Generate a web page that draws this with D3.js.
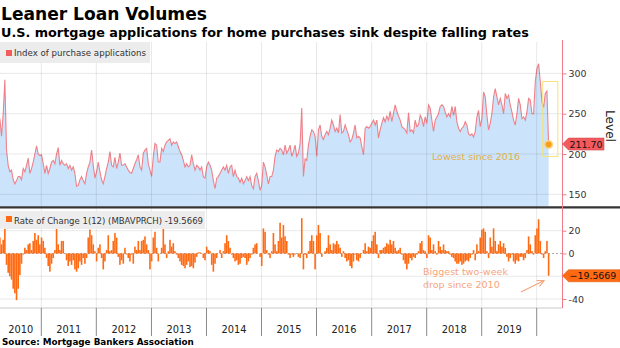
<!DOCTYPE html>
<html><head><meta charset="utf-8">
<script src="https://cdn.jsdelivr.net/npm/d3@7"></script>
<style>body{margin:0;background:#fff}svg{display:block}</style>
</head><body>
<svg id="c" width="620" height="348"></svg>
<script>
// ---------------- DATA ----------------
const startDate = new Date(2010, 3, 1);
const endDate = new Date(2020, 2, 20);

const purchaseIndex = [
244,222,250,292,205,186,178,180,168,163,
167,172,172,168,182,178,186,195,176,182,
190,200,210,200,198,199,188,176,186,176,
182,190,192,188,200,208,186,192,188,186,
188,182,186,180,184,176,160,161,168,172,
167,163,176,184,190,205,186,170,178,190,
178,168,163,172,182,190,203,186,184,196,
182,190,201,186,186,188,184,180,177,176,
182,188,193,199,
184,180,201,205,207,188,180,172,197,213,
211,190,190,207,203,211,215,217,219,211,
215,213,215,209,203,199,192,184,188,184,
186,199,188,180,186,184,180,184,172,170,
184,190,186,180,167,157,170,172,176,180,
184,180,186,176,184,186,172,180,172,170,
165,170,163,167,172,167,172,161,157,172,
176,167,155,161,190,184,174,163,172,172,
180,197,205,203,
207,205,199,211,201,205,211,197,203,211,
197,201,213,257,172,194,192,211,222,230,
228,222,197,230,236,222,218,224,228,224,
232,242,236,228,232,226,249,226,228,236,
230,224,215,218,226,236,220,222,220,209,
199,232,234,232,234,238,242,236,242,220,
230,238,245,240,247,242,253,240,251,261,
253,247,242,234,232,230,226,251,228,230,
226,242,234,236,
248,244,234,246,238,261,257,242,228,242,
246,250,259,261,259,252,246,250,246,259,
248,259,240,232,228,232,234,240,236,225,
223,225,221,228,246,254,234,244,277,271,
248,230,238,250,271,281,271,261,269,261,
250,275,269,273,261,252,242,236,250,269,
261,244,246,242,252,269,267,250,250,290,
306,312,290,265,258,275,278,211.7
];

const rateOfChange = [
14,8,12,22,-10,-17,-20,-23,-31,-35,
-41,-31,-19,-9,-1,5,3,8,9,3,
11,18,12,16,8,14,11,5,-4,-11,
-16,-9,-4,3,22,8,3,11,11,0,
-6,-11,-7,-10,-6,-14,-16,-13,-7,-10,
-4,-9,-4,14,21,16,8,2,-7,5,
8,-4,-14,-7,3,16,2,3,11,18,
14,-3,-10,-6,-9,5,-1,-4,-7,-1,
-9,6,3,11,3,11,12,15,8,3,
-14,-7,14,19,5,-7,0,5,22,8,
-4,2,12,6,9,2,-1,-4,-7,-10,
-11,-13,-10,-7,
-12,-11,-13,-8,-3,1,1,0,-4,-6,
6,3,2,-10,-16,-9,-4,0,3,-4,
2,9,16,11,5,-1,-4,-7,-6,-10,
-9,-4,-3,-4,-10,-7,-4,-1,5,8,
9,0,-3,-11,22,19,3,-1,-4,2,
18,8,2,11,27,14,25,15,11,-1,
-4,-1,-3,-1,0,-3,-4,31,-14,-1,
-4,2,11,16,11,-14,16,25,18,-3,
0,2,5,16,8,3,9,8,11,8,
5,-3,2,-4,-7,-6,-11,-13,-7,-1,
-6,-7,-4,0,3,9,2,6,
5,11,16,19,8,-4,3,3,5,6,
9,8,12,8,11,5,2,3,5,-1,
-6,-9,-14,-9,-4,-6,-3,-4,-1,2,
9,11,3,2,-4,16,14,3,8,2,
-1,11,6,3,8,3,2,2,-1,-3,
-4,-7,-9,-9,-7,-10,-9,-7,-6,-7,
-4,-1,3,-6,8,2,14,21,22,19,
2,-4,14,6,22,11,2,8,11,6,
9,5,-3,-7,-4,-1,-7,-9,-6,-7,
-3,-3,-6,-4,3,15,8,2,-1,16,
22,30,11,-1,-4,2,11,-19.5669
];

const yearLabels = ["2010","2011","2012","2013","2014","2015","2016","2017","2018","2019"];
const topTicks = [150, 200, 250, 300];
const bottomGrid = [20, -20, -40];
const bottomTicks = [20, 0, -40];
const lastLevel = 211.70;
const lastChange = -19.5669;

// ---------------- LAYOUT ----------------
const FONT = "DejaVu Sans, sans-serif";
const svg = d3.select("#c");
const plotL = 0, plotR = 562.5;
const topY0 = 42, topY1 = 206.5;
const botY1 = 308;

const n = purchaseIndex.length;
const dates = d3.range(n).map(i => new Date(+startDate + i * (endDate - startDate) / (n - 1)));

const x = d3.scaleTime().domain([new Date(2011,0,1), new Date(2019,0,1)]).range([41.3, 481.7]);
const yTop = d3.scaleLinear().domain([150, 300]).range([194.3, 73.4]);
const yBot = d3.scaleLinear().domain([-40, 20]).range([299, 230.7]);

function fit(sel, target) {
  const w = sel.node().getComputedTextLength();
  const fs = parseFloat(sel.attr("font-size"));
  sel.attr("font-size", (fs * target / w).toFixed(2));
  return sel;
}

const defs = svg.append("defs");
defs.append("clipPath").attr("id","clipTop").append("rect")
  .attr("x", plotL).attr("y", topY0).attr("width", plotR - plotL).attr("height", topY1 - topY0);
defs.append("marker").attr("id","arr").attr("viewBox","0 0 10 10").attr("refX",9).attr("refY",5)
  .attr("markerWidth",7).attr("markerHeight",7).attr("orient","auto")
  .append("path").attr("d","M1,1 L9,5 L1,9").attr("fill","none").attr("stroke","#f6a57e").attr("stroke-width",1.4);

// ---------- Title ----------
fit(svg.append("text").attr("x", 1).attr("y", 20).attr("font-family", FONT).attr("font-weight","bold")
  .attr("font-size", 17).attr("fill","#000").text("Leaner Loan Volumes"), 206);
fit(svg.append("text").attr("x", 1).attr("y", 37).attr("font-family", FONT).attr("font-weight","bold")
  .attr("font-size", 13).attr("fill","#000").text("U.S. mortgage applications for home purchases sink despite falling rates"), 528);

// ---------- Top panel ----------
const gTop = svg.append("g").attr("clip-path","url(#clipTop)");
gTop.append("path").datum(purchaseIndex)
  .attr("d", d3.area().x((d,i) => x(dates[i])).y0(topY1).y1(d => yTop(d)))
  .attr("fill", "#cbe3fb");

const years = d3.timeYear.range(new Date(2011,0,1), new Date(2021,0,1));
svg.append("g").selectAll("line").data(topTicks).join("line")
  .attr("x1", plotL).attr("x2", plotR).attr("y1", d => yTop(d)).attr("y2", d => yTop(d))
  .attr("stroke", "rgba(0,0,0,0.09)");
svg.append("g").selectAll("line").data(years).join("line")
  .attr("x1", d => x(d)).attr("x2", d => x(d)).attr("y1", topY0).attr("y2", botY1)
  .attr("stroke", "rgba(0,0,0,0.09)");

gTop.append("path").datum(purchaseIndex)
  .attr("d", d3.line().x((d,i) => x(dates[i])).y(d => yTop(d)))
  .attr("fill", "none").attr("stroke", "#ef8189").attr("stroke-width", 1.1);

// legend top
svg.append("rect").attr("x",0).attr("y",42).attr("width",150).attr("height",21).attr("fill","#ececec");
svg.append("rect").attr("x",6).attr("y",50).attr("width",6).attr("height",6).attr("fill","#f25c5c");
fit(svg.append("text").attr("x",14).attr("y",56).attr("font-family",FONT).attr("font-size",9)
  .attr("fill","#333").text("Index of purchase applications"), 132);

// annotation top
const lastX = x(dates[n-1]);
svg.append("rect").attr("x", x(new Date(2020,1,10))).attr("y", yTop(290))
  .attr("width", x(new Date(2020,4,20)) - x(new Date(2020,1,10))).attr("height", yTop(197) - yTop(290))
  .attr("fill","none").attr("stroke","#f5e27a").attr("stroke-width",1);
svg.append("circle").attr("cx", lastX).attr("cy", yTop(lastLevel)).attr("r", 3.8)
  .attr("fill","#f5a01a").attr("stroke","#fbd58a").attr("stroke-width",1.5);
fit(svg.append("text").attr("x",432).attr("y",160).attr("font-family",FONT).attr("font-size",10)
  .attr("fill","#e4b046").text("Lowest since 2016"), 88);

// separator
svg.append("line").attr("x1",0).attr("x2",620).attr("y1",207.3).attr("y2",207.3)
  .attr("stroke","#353535").attr("stroke-width",2.2);

// ---------- Bottom panel ----------
svg.append("g").selectAll("line").data(bottomGrid).join("line")
  .attr("x1", plotL).attr("x2", plotR).attr("y1", d => yBot(d)).attr("y2", d => yBot(d))
  .attr("stroke", "rgba(0,0,0,0.09)");
svg.append("line").attr("x1", plotL).attr("x2", plotR).attr("y1", yBot(0)).attr("y2", yBot(0))
  .attr("stroke", "#aaa").attr("stroke-dasharray","2,2");

svg.append("g").selectAll("rect").data(rateOfChange).join("rect")
  .attr("x", (d,i) => x(dates[i]) - 0.8).attr("width", 1.6)
  .attr("y", d => Math.min(yBot(d), yBot(0))).attr("height", d => Math.abs(yBot(d) - yBot(0)))
  .attr("fill", "#ff6a13");

// legend bottom
svg.append("rect").attr("x",0).attr("y",211).attr("width",205).attr("height",18).attr("fill","#ececec").attr("opacity",0.95);
svg.append("rect").attr("x",6).attr("y",216).attr("width",6).attr("height",6).attr("fill","#ff6a13");
fit(svg.append("text").attr("x",14).attr("y",224).attr("font-family",FONT).attr("font-size",9)
  .attr("fill","#333").text("Rate of Change 1(12) (MBAVPRCH) -19.5669"), 189);

// annotation bottom
const a1 = svg.append("text").attr("x",423).attr("y",275).attr("font-family",FONT).attr("font-size",10.3)
  .attr("fill","#f6a57e").text("Biggest two-week");
fit(a1, 85);
svg.append("text").attr("x",423).attr("y",287.5).attr("font-family",FONT).attr("font-size",a1.attr("font-size"))
  .attr("fill","#f6a57e").text("drop since 2010");
svg.append("line").attr("x1",521).attr("y1",292).attr("x2",544).attr("y2",280.5)
  .attr("stroke","#f6a57e").attr("stroke-width",1.2).attr("marker-end","url(#arr)");

// ---------- X axis ----------
svg.append("line").attr("x1",plotL).attr("x2",plotR).attr("y1",botY1).attr("y2",botY1).attr("stroke","#c8c8c8");
svg.append("g").selectAll("line").data(years).join("line")
  .attr("x1", d => x(d)).attr("x2", d => x(d)).attr("y1", botY1).attr("y2", 336)
  .attr("stroke", "#8a8a8a");
const yl = svg.append("g");
const probe = yl.append("text").attr("font-family",FONT).attr("font-size",10).text("2010");
fit(probe, 25);
const yearFs = probe.attr("font-size");
probe.remove();
yl.selectAll("text").data(yearLabels).join("text")
  .attr("x", d => {
    const a = Math.max(plotL, x(new Date(+d,0,1)));
    const b = Math.min(plotR, x(new Date(+d+1,0,1)));
    return (a + b) / 2;
  })
  .attr("y", 333).attr("text-anchor","middle").attr("font-family",FONT).attr("font-size",yearFs)
  .attr("fill","#222").text(d => d);

// ---------- Right axis ----------
svg.append("line").attr("x1",plotR).attr("x2",plotR).attr("y1",40).attr("y2",botY1)
  .attr("stroke","#f07a87").attr("stroke-width",1);
const axFsProbe = svg.append("text").attr("font-family",FONT).attr("font-size",10).text("300");
fit(axFsProbe, 18);
const axFs = axFsProbe.attr("font-size");
axFsProbe.remove();

const gAxTop = svg.append("g").attr("transform", `translate(${plotR},0)`)
  .call(d3.axisRight(yTop).tickValues(topTicks).tickSize(4).tickPadding(2));
const gAxBot = svg.append("g").attr("transform", `translate(${plotR},0)`)
  .call(d3.axisRight(yBot).tickValues(bottomTicks).tickSize(4).tickPadding(2).tickFormat(d3.format("d")));
[gAxTop, gAxBot].forEach(g => {
  g.select(".domain").remove();
  g.selectAll(".tick line").attr("stroke","#f07a87");
  g.selectAll(".tick text").attr("font-family",FONT).attr("font-size",axFs).attr("fill","#333");
});
gAxBot.selectAll(".tick text").text(d => d < 0 ? "-" + Math.abs(d) : d);

fit(svg.append("text").attr("transform","translate(606,110) rotate(90)").attr("font-family",FONT)
  .attr("font-size",12).attr("fill","#222").text("Level"), 32);

// value tags
function tag(cy, right, fill, label) {
  const h = 6;
  svg.append("path")
    .attr("d", `M${plotR},${cy} L${plotR+6},${cy-h} L${right},${cy-h} L${right},${cy+h} L${plotR+6},${cy+h} Z`)
    .attr("fill", fill).attr("stroke", d3.color(fill).darker(0.4)).attr("stroke-width",0.6);
  svg.append("text").attr("x", plotR + 7).attr("y", cy + 3.6).attr("font-family",FONT)
    .attr("font-size",axFs).attr("fill","#111").text(label);
}
tag(yTop(lastLevel) - 0.5, 604, "#f25a5e", d3.format(".2f")(lastLevel));
tag(yBot(lastChange), 620, "#ff6a13", d3.format(".4f")(lastChange));

// ---------- Source ----------
fit(svg.append("text").attr("x",2).attr("y",345).attr("font-family",FONT).attr("font-weight","bold")
  .attr("font-size",10).attr("fill","#000").text("Source:  Mortgage Bankers Association"), 192);
</script>
</body></html>
